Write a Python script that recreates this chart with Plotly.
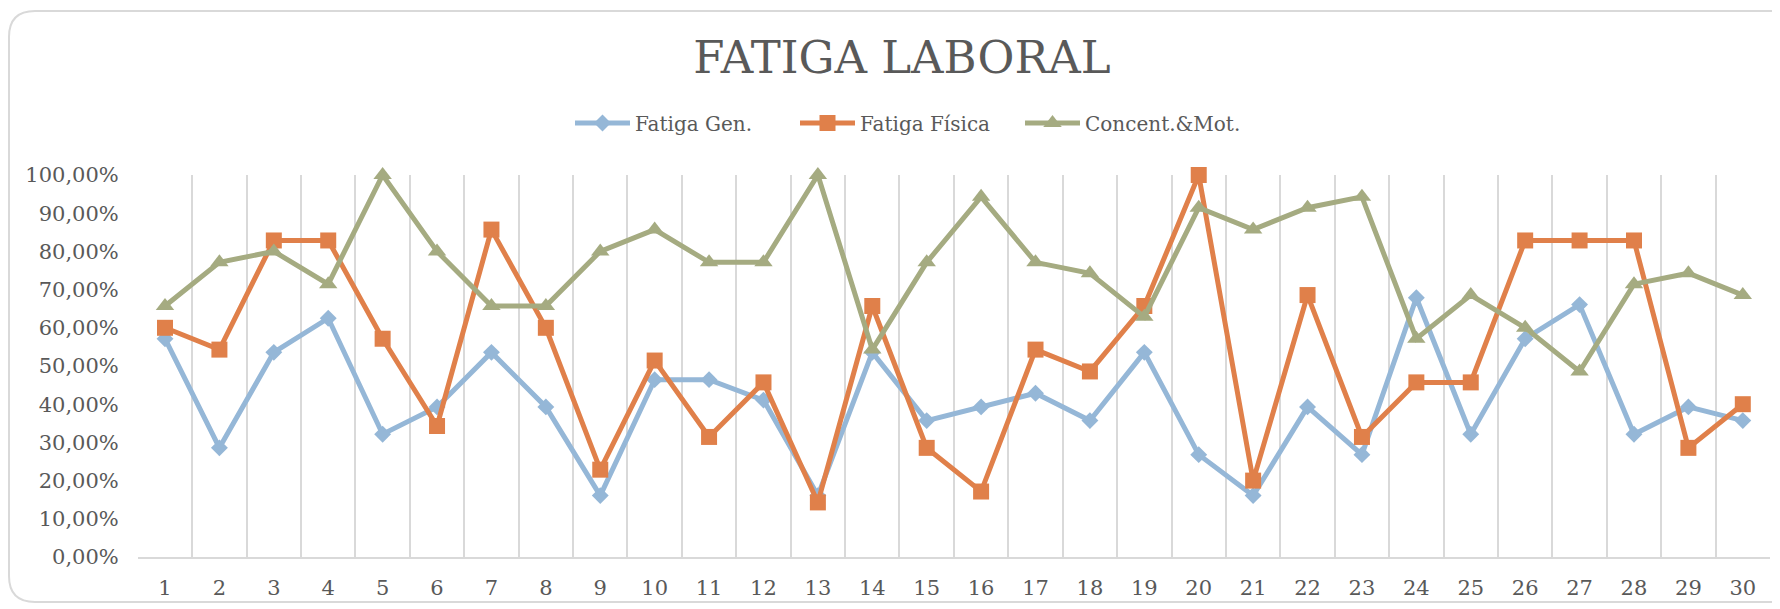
import plotly.graph_objects as go

categories = [str(i) for i in range(1, 31)]
fatiga_gen = [0.5714, 0.2857, 0.5357, 0.6250, 0.3214, 0.3929, 0.5357, 0.3929, 0.1607, 0.4643,
              0.4643, 0.4107, 0.1607, 0.5357, 0.3571, 0.3929, 0.4286, 0.3571, 0.5357, 0.2679,
              0.1607, 0.3929, 0.2679, 0.6786, 0.3214, 0.5714, 0.6607, 0.3214, 0.3929, 0.3571]
fatiga_fisica = [0.6000, 0.5429, 0.8286, 0.8286, 0.5714, 0.3429, 0.8571, 0.6000, 0.2286, 0.5143,
                 0.3143, 0.4571, 0.1429, 0.6571, 0.2857, 0.1714, 0.5429, 0.4857, 0.6571, 1.0000,
                 0.2000, 0.6857, 0.3143, 0.4571, 0.4571, 0.8286, 0.8286, 0.8286, 0.2857, 0.4000]
concent_mot = [0.6571, 0.7714, 0.8000, 0.7143, 1.0000, 0.8000, 0.6571, 0.6571, 0.8000, 0.8571,
               0.7714, 0.7714, 1.0000, 0.5429, 0.7714, 0.9429, 0.7714, 0.7429, 0.6286, 0.9143,
               0.8571, 0.9143, 0.9429, 0.5714, 0.6857, 0.6000, 0.4857, 0.7143, 0.7429, 0.6857]
y_ticks = [0, 0.1, 0.2, 0.3, 0.4, 0.5, 0.6, 0.7, 0.8, 0.9, 1.0]

W, H = 1780, 609
FONT = "DejaVu Serif"
TXT = "#595959"
GRID = "#D9D9D9"
OFF = 8  # page body margin

fig = go.Figure()
fig.add_trace(go.Scatter(x=categories, y=fatiga_gen, name="Fatiga Gen.", mode="lines+markers",
                         line=dict(color="#95B7D7", width=5),
                         marker=dict(symbol="diamond", size=13, color="#95B7D7"),
                         cliponaxis=False))
fig.add_trace(go.Scatter(x=categories, y=fatiga_fisica, name="Fatiga Física", mode="lines+markers",
                         line=dict(color="#E0804A", width=5),
                         marker=dict(symbol="square", size=16, color="#E0804A"),
                         cliponaxis=False))
fig.add_trace(go.Scatter(x=categories, y=concent_mot, name="Concent.&Mot.", mode="lines+markers",
                         line=dict(color="#A5AB81", width=5),
                         marker=dict(symbol="triangle-up", size=16, color="#A5AB81"),
                         cliponaxis=False))


def fx(x):
    return (x - OFF) / W


def fy(y):
    return 1 - (y - OFF) / H


fig.update_layout(
    width=W, height=H,
    margin=dict(l=0, r=0, t=0, b=0),
    paper_bgcolor="white", plot_bgcolor="white",
    separators=",.",
    font=dict(family=FONT, color=TXT, size=20),
    title=dict(text="FATIGA LABORAL", x=fx(902), y=fy(57), xanchor="center", yanchor="middle",
               font=dict(family=FONT, size=45, color=TXT)),
    legend=dict(orientation="h", x=fx(570), y=fy(123), xanchor="left", yanchor="middle",
                font=dict(family=FONT, size=20, color=TXT), bgcolor="rgba(0,0,0,0)",
                itemwidth=55, entrywidth=155, entrywidthmode="pixels"),
    xaxis=dict(domain=[fx(137.8), fx(1770)], type="category", range=[-0.5, 29.5],
               tickson="boundaries",
               showgrid=True, gridcolor=GRID, gridwidth=1.5, showline=True, linecolor=GRID,
               linewidth=1.5, ticks="", zeroline=False, automargin=False,
               tickfont=dict(family=FONT, size=21, color=TXT), ticklabelstandoff=11),
    yaxis=dict(domain=[fy(557), fy(175)], range=[0, 1], tickvals=y_ticks, tickformat=".2%",
               showgrid=False, zeroline=False, showline=False, ticks="", automargin=False,
               tickfont=dict(family=FONT, size=21, color=TXT), ticklabelstandoff=18),
    showlegend=True,
)

# rounded chart border
r = 26
L, T, R, B = 1, 3, 1800, 594
def px(x):
    return x / W
def py(y):
    return 1 - y / H
path = (f"M {px(L)},{py(T + r)} Q {px(L)},{py(T)} {px(L + r)},{py(T)} "
        f"L {px(R - r)},{py(T)} Q {px(R)},{py(T)} {px(R)},{py(T + r)} "
        f"L {px(R)},{py(B - r)} Q {px(R)},{py(B)} {px(R - r)},{py(B)} "
        f"L {px(L + r)},{py(B)} Q {px(L)},{py(B)} {px(L)},{py(B - r)} Z")
fig.add_shape(type="path", path=path, xref="paper", yref="paper",
              line=dict(color="#D9D9D9", width=2), layer="below")

fig.write_html("out.html")
